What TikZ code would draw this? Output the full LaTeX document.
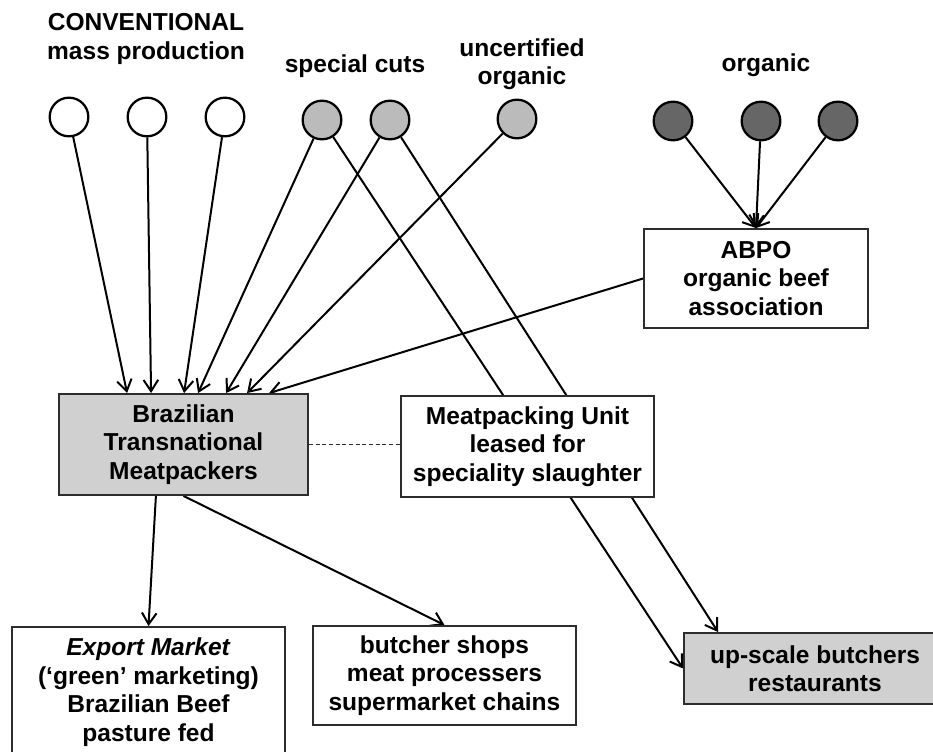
\documentclass[tikz,border=0pt]{standalone}
\usepackage{fontspec}
\setmainfont{Liberation Sans}
\usetikzlibrary{calc}
\usetikzlibrary{arrows.meta}
\usetikzlibrary{backgrounds}
\tikzset{every picture/.style={line width=0.75pt}}
\definecolor{boxgray}{RGB}{208,208,208}
\definecolor{cutgray}{RGB}{187,187,187}
\definecolor{orggray}{RGB}{102,102,102}
\definecolor{rimgray}{RGB}{45,45,45}
\tikzset{
  lbl/.style={align=center, inner sep=0pt, font=\bfseries\fontsize{18.4}{21.4}\selectfont},
  farm/.style={circle, draw=black, line width=1.7pt, minimum size=29pt, inner sep=0pt},
  unit/.style={lbl, draw=rimgray, line width=1.4pt, fill=white},
  flow/.style={line width=1.5pt, -{Straight Barb[length=8.5pt,width=11pt]}},
}

\begin{document}
\begin{tikzpicture}[x=0.75pt,y=0.75pt,yscale=-1,xscale=1]
\useasboundingbox (0,0) rectangle (933,752);
\clip (0,0) rectangle (933,752);

% Text Node
\node [lbl] (conv) at (146,39) {CONVENTIONAL\\mass production};
% Text Node
\node [lbl] (cuts) at (355,66) {special cuts};
% Text Node
\node [lbl] (uncert) at (522,64) {uncertified\\organic};
% Text Node
\node [lbl] (org) at (766,65) {organic};

%Shape: Circle
\node [farm, fill=white] (w1) at (69,117) {};
\node [farm, fill=white] (w2) at (147,117) {};
\node [farm, fill=white] (w3) at (225,117) {};
%Shape: Circle
\node [farm, fill=cutgray] (c1) at (322,120) {};
\node [farm, fill=cutgray] (c2) at (390,120) {};
\node [farm, fill=cutgray] (c3) at (517,119) {};
%Shape: Circle
\node [farm, fill=orggray] (o1) at (673,121) {};
\node [farm, fill=orggray] (o2) at (761,121) {};
\node [farm, fill=orggray] (o3) at (838,121) {};

%Rect
\node [unit, minimum width=168pt, minimum height=74.25pt] (abpo) at (756,278.5) {ABPO\\organic beef\\association};
\node [unit, fill=boxgray, minimum width=186.75pt, minimum height=75.75pt] (brz) at (183.5,444.5) {Brazilian\\Transnational\\Meatpackers};
\node [unit, minimum width=189.75pt, minimum height=75.75pt] (mpu) at (527.5,446.5) {Meatpacking Unit\\leased for\\speciality slaughter};
\node [unit, minimum width=204.75pt, minimum height=97.5pt] (exp) at (148.5,692) {\textit{Export Market}\\(‘green’ marketing)\\Brazilian Beef\\pasture fed};
\node [unit, minimum width=197.25pt, minimum height=74.25pt] (shops) at (444.5,675.5) {butcher shops\\meat processers\\supermarket chains};
\node [unit, fill=boxgray, minimum width=196.5pt, minimum height=53.25pt] (ups) at (815,668.5) {up-scale butchers\\restaurants};

\begin{scope}[on background layer]
%Straight Lines
\draw [flow] (w1) -- ($(brz.north west)+(69,0)$);
\draw [flow] (w2) -- ($(brz.north west)+(93,0)$);
\draw [flow] (w3) -- ($(brz.north west)+(126,0)$);
\draw [flow] (c1) -- ($(brz.north west)+(140,0)$);
\draw [flow] (c2) -- ($(brz.north west)+(168,0)$);
\draw [flow] (c3) -- ($(brz.north west)+(189,0)$);
\draw [flow] (abpo.west) -- ($(brz.north west)+(211,0)$);
%Straight Lines
\draw [flow] (o1) -- (abpo.north);
\draw [flow] (o2) -- (abpo.north);
\draw [flow] (o3) -- (abpo.north);
%Straight Lines
\draw [flow] (c1) -- (ups.west);
\draw [flow] (c2) -- ($(ups.north west)+(35,0)$);
%Straight Lines
\draw [flow] ($(brz.south west)!0.39!(brz.south east)$) -- (exp.north);
\draw [flow] (brz.south) -- (shops.north);
\draw [line width=0.8pt, rimgray, dash pattern=on 3pt off 2pt] (brz.east) -- (brz.east -| mpu.west);
\end{scope}

\end{tikzpicture}
\end{document}
